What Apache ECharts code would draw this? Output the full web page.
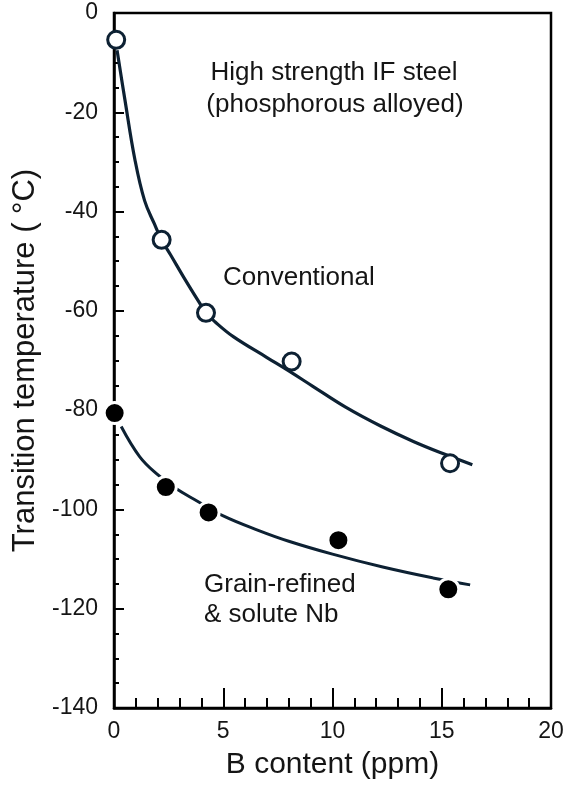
<!DOCTYPE html>
<html><head><meta charset="utf-8">
<script src="https://cdn.jsdelivr.net/npm/echarts@6/dist/echarts.min.js"></script>
<style>html,body{margin:0;padding:0;background:#fff}#c{width:567px;height:788px}</style>
</head><body><div id="c"></div>
<script>
// measured points
const convB  = [0.1, 2.18, 4.21, 8.13, 15.38];
const convT  = [-5.4, -45.7, -60.4, -70.2, -90.7];
const grainB = [0.03, 2.37, 4.33, 10.27, 15.3];
const grainT = [-80.6, -95.5, -100.6, -106.2, -116.1];
// fitted curves
const convFitB = [0.14, 0.5, 0.96, 1.4, 1.85, 2.18, 2.6, 3.2, 3.9, 4.21, 4.62, 5.46, 7.0, 8.0, 9.1, 10.6, 12.2, 13.7, 15.2, 16.4];
const convFitT = [-7.5, -17.5, -29.6, -37.8, -42.5, -45.7, -48.8, -53.3, -58.3, -60.4, -62.2, -65.2, -69.4, -72.1, -75.2, -79.4, -83.2, -86.3, -89.0, -91.0];
const grainFitB = [0.33, 1.18, 2.0, 2.8, 3.8, 5.0, 6.6, 8.0, 10.0, 12.3, 14.6, 16.3];
const grainFitT = [-83.3, -89.4, -93.0, -95.7, -98.3, -101.3, -104.2, -106.4, -109.0, -111.6, -113.8, -115.2];
// axis ticks
const xTicks = [0, 5, 10, 15, 20];
const yTicks = [-140, -120, -100, -80, -60, -40, -20, 0];

const FONT = '"Liberation Sans", Arial, sans-serif';
const LINE = '#0d2133';
const TXT = '#151515';
const zip = (a, b) => a.map((v, i) => [v, b[i]]);

const chart = echarts.init(document.getElementById('c'), null, {renderer: 'canvas'});
chart.setOption({
  animation: false,
  backgroundColor: '#fff',
  grid: {left: 114, right: 16, top: 13, bottom: 80, show: true, borderColor: '#000', borderWidth: 2.5, backgroundColor: 'transparent'},
  xAxis: {
    type: 'value', position: 'bottom', min: xTicks[0], max: xTicks[xTicks.length - 1], interval: xTicks[1] - xTicks[0],
    name: 'B content (ppm)', nameLocation: 'middle', nameGap: 42,
    nameTextStyle: {fontSize: 30, fontFamily: FONT, color: TXT},
    axisLine: {show: true, onZero: false, lineStyle: {color: '#000', width: 2.5}},
    axisTick: {show: true, inside: true, length: 20, lineStyle: {color: '#000', width: 2}},
    minorTick: {show: true, splitNumber: 5, length: 10, lineStyle: {color: '#000', width: 2}},
    axisLabel: {fontSize: 23, fontFamily: FONT, color: TXT, margin: 12},
    splitLine: {show: false}
  },
  yAxis: {
    type: 'value', position: 'left', min: yTicks[0], max: yTicks[yTicks.length - 1], interval: yTicks[1] - yTicks[0],
    name: 'Transition temperature ( °C)', nameLocation: 'middle', nameGap: 70, nameRotate: 90,
    nameTextStyle: {fontSize: 31, fontFamily: FONT, color: TXT},
    axisLine: {show: true, onZero: false, lineStyle: {color: '#000', width: 2.5}},
    axisTick: {show: true, inside: true, length: 10, lineStyle: {color: '#000', width: 2}},
    minorTick: {show: true, splitNumber: 4, length: 5, lineStyle: {color: '#000', width: 2}},
    axisLabel: {fontSize: 23, fontFamily: FONT, color: TXT, margin: 16},
    splitLine: {show: false}
  },
  series: [
    {type: 'line', data: zip(convFitB, convFitT), smooth: 0.4, showSymbol: false, symbol: 'none',
     lineStyle: {color: LINE, width: 3.2}, z: 2},
    {type: 'line', data: zip(grainFitB, grainFitT), smooth: 0.4, showSymbol: false, symbol: 'none',
     lineStyle: {color: LINE, width: 3}, z: 2},
    {type: 'scatter', data: zip(convB, convT), symbol: 'circle', symbolSize: 17,
     itemStyle: {color: '#fff', borderColor: LINE, borderWidth: 3, opacity: 1}, z: 3},
    {type: 'scatter', data: zip(grainB, grainT), symbol: 'circle', symbolSize: 21,
     itemStyle: {color: '#000', borderColor: '#fff', borderWidth: 3, opacity: 1}, z: 4}
  ],
  graphic: [
    {type: 'text', x: 334, y: 73, style: {text: 'High strength IF steel', font: '26px ' + FONT, fill: TXT, align: 'center', verticalAlign: 'middle'}},
    {type: 'text', x: 335, y: 105, style: {text: '(phosphorous alloyed)', font: '26px ' + FONT, fill: TXT, align: 'center', verticalAlign: 'middle'}},
    {type: 'text', x: 223, y: 278, style: {text: 'Conventional', font: '26px ' + FONT, fill: TXT, align: 'left', verticalAlign: 'middle'}},
    {type: 'text', x: 204, y: 585, style: {text: 'Grain-refined', font: '26px ' + FONT, fill: TXT, align: 'left', verticalAlign: 'middle'}},
    {type: 'text', x: 204, y: 615, style: {text: '& solute Nb', font: '26px ' + FONT, fill: TXT, align: 'left', verticalAlign: 'middle'}}
  ]
});
</script>
</body></html>
